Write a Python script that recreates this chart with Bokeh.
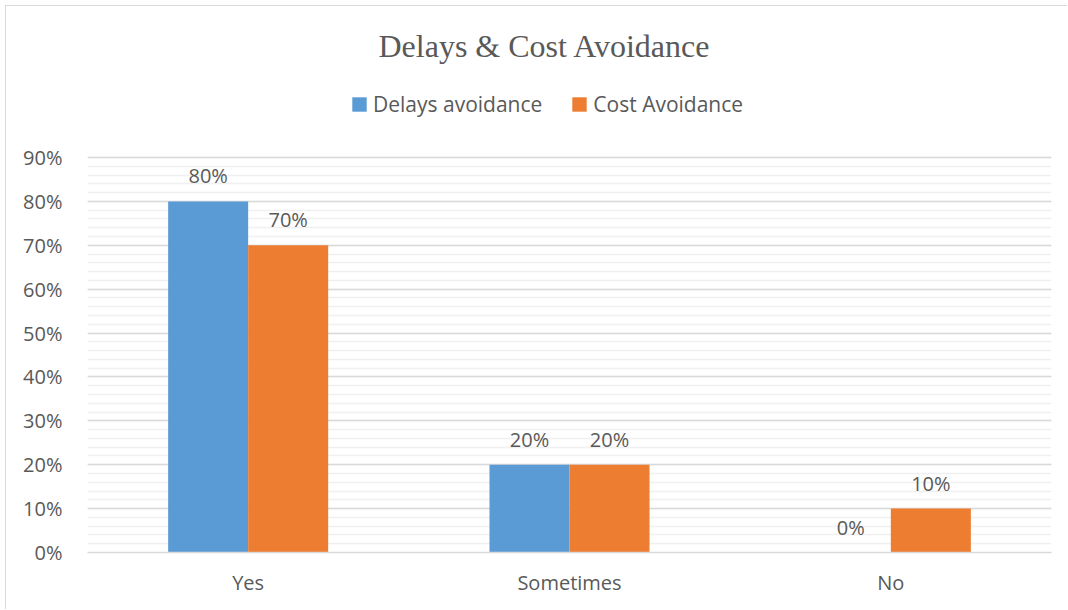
from bokeh.plotting import figure
from bokeh.models import (ColumnDataSource, FactorRange, Range1d, FixedTicker,
                          NumeralTickFormatter, LabelSet, Legend, LegendItem)
from bokeh.core.properties import value
from bokeh.transform import dodge
from bokeh.embed import file_html
from bokeh.resources import INLINE

categories = ["Yes", "Sometimes", "No"]
delays = [0.80, 0.20, 0.00]
cost = [0.70, 0.20, 0.10]
series_names = ["Delays avoidance", "Cost Avoidance"]
colors = ["#5B9BD5", "#ED7D31"]
y_ticks = [0, 0.1, 0.2, 0.3, 0.4, 0.5, 0.6, 0.7, 0.8, 0.9]
minor_ticks = [i / 50 for i in range(0, 46)]

src = ColumnDataSource(dict(
    cat=categories, delays=delays, cost=cost,
    delays_txt=[f"{round(v*100)}%" for v in delays],
    cost_txt=[f"{round(v*100)}%" for v in cost],
))

FONT = "Open Sans"
TXT = "#595959"
FS = "20px"

# frame spans canvas y 80..552; 0.9 sits at y=157 -> extend range above 0.9
y_top = 0.9 * (552 - 80) / (552 - 157)

p = figure(width=1062, height=604, x_range=FactorRange(*categories),
           y_range=Range1d(0, y_top), output_backend="svg", toolbar_location=None,
           min_border_left=81, min_border_right=17, min_border_top=74,
           min_border_bottom=58)
p.outline_line_color = None
p.background_fill_color = "white"
p.border_fill_color = "white"

bw = 0.249
off = 0.1245
r1 = p.vbar(x=dodge("cat", -off, range=p.x_range), top="delays", width=bw,
            source=src, fill_color=colors[0], line_color=None)
r2 = p.vbar(x=dodge("cat", off, range=p.x_range), top="cost", width=bw,
            source=src, fill_color=colors[1], line_color=None)

for xcol, ycol, tcol in [(-off, "delays", "delays_txt"), (off, "cost", "cost_txt")]:
    ls = LabelSet(x=dodge("cat", xcol, range=p.x_range), y=ycol, text=tcol,
                  source=src, text_align="center", text_baseline="alphabetic",
                  y_offset=18, text_font=value(FONT), text_font_size=FS,
                  text_color=TXT)
    p.add_layout(ls)

# axes
p.yaxis.ticker = FixedTicker(ticks=y_ticks, minor_ticks=minor_ticks)
p.yaxis.formatter = NumeralTickFormatter(format="0%")
p.yaxis.axis_line_color = None
p.yaxis.major_tick_line_color = None
p.yaxis.minor_tick_line_color = None
p.yaxis.major_label_standoff = 19
p.yaxis.major_label_text_font = FONT
p.yaxis.major_label_text_font_size = FS
p.yaxis.major_label_text_color = TXT

p.xaxis.axis_line_color = "#D9D9D9"
p.xaxis.axis_line_width = 1.5
p.xaxis.major_tick_line_color = None
p.xaxis.minor_tick_line_color = None
p.xaxis.major_label_standoff = 10
p.xaxis.major_label_text_font = FONT
p.xaxis.major_label_text_font_size = FS
p.xaxis.major_label_text_color = TXT

p.xgrid.grid_line_color = None
p.ygrid.grid_line_color = "#D9D9D9"
p.ygrid.grid_line_width = 1.5
p.ygrid.minor_grid_line_color = "#F0F0F0"
p.ygrid.minor_grid_line_width = 1.5

# title
p.title.text = "Delays & Cost Avoidance"
p.title.align = "left"
p.title.offset = 291
p.title.text_font = "Liberation Serif"
p.title.text_font_size = "32px"
p.title.text_font_style = "normal"
p.title.text_color = TXT
p.title.standoff = 34

legend = Legend(items=[LegendItem(label=series_names[0], renderers=[r1]),
                       LegendItem(label=series_names[1], renderers=[r2])],
                location=(263, 434), orientation="horizontal",
                glyph_width=18, glyph_height=18, label_standoff=5,
                spacing=28, padding=0, margin=0,
                label_text_font=FONT, label_text_font_size="21px",
                label_text_color=TXT, border_line_color=None,
                background_fill_alpha=0)
p.add_layout(legend, "center")

p.styles = {"border-top": "1px solid #D9D9D9", "border-left": "1px solid #D9D9D9",
            "margin-left": "5px", "margin-top": "5px"}

open("out.html", "w").write(file_html(p, INLINE))
